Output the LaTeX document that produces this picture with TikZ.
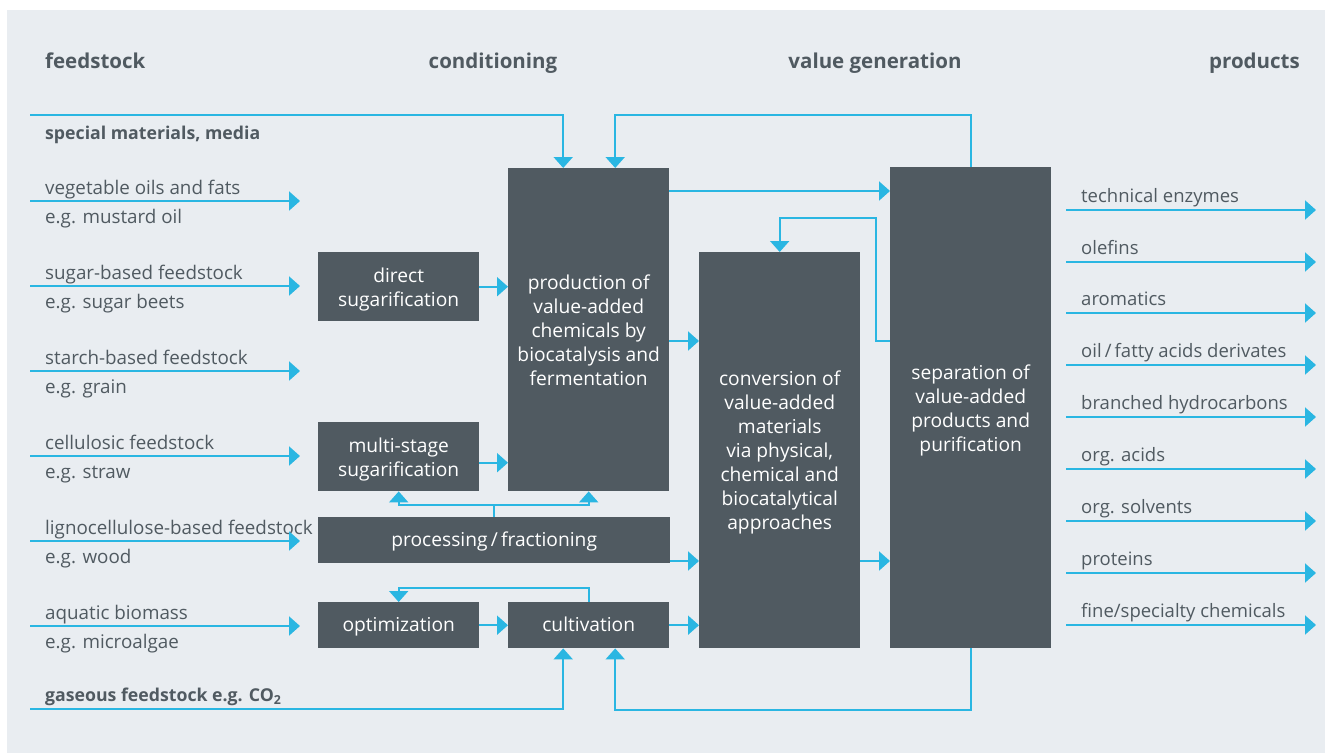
\documentclass[tikz,border=0pt]{standalone}
\usepackage{fontspec}
\setmainfont{Open Sans}
\usetikzlibrary{arrows.meta,calc}
\definecolor{bg}{HTML}{E9EDF1}
\definecolor{boxc}{HTML}{505A61}
\definecolor{ln}{HTML}{2AB6E2}
\definecolor{txt}{HTML}{505A61}
\begin{document}
\begin{tikzpicture}[x=1pt,y=-1pt,
  box/.style={fill=boxc, text=white, inner sep=0pt, align=center, anchor=north west,
    text depth=0pt, font=\fontsize{19.2}{24}\selectfont},
  onebox/.style={box, text height=15.5pt, text depth=2.5pt},
  lbl/.style={text=txt, anchor=base west, inner sep=0pt, font=\fontsize{18.8}{22}\selectfont},
  plbl/.style={lbl, font=\fontsize{18.5}{22}\selectfont},
  blbl/.style={lbl, font=\bfseries\fontsize{17.7}{22}\selectfont},
  hdr/.style={text=txt, inner sep=0pt, font=\bfseries\fontsize{20.5}{24}\selectfont},
  conn/.style={draw=ln, line width=2pt},
  arr/.style={conn, -{Triangle[length=11pt,width=19pt]}},
]
\useasboundingbox (0,0) rectangle (1325,753);
\fill[bg] (7,10) rectangle (1325,753);

% headers
\node[hdr, anchor=base west] (h1) at (45,68.5) {feedstock};
\node[hdr, anchor=base] (h2) at (493,68.5) {conditioning};
\node[hdr, anchor=base] (h3) at (875,68.5) {value generation};
\node[hdr, anchor=base east] (h4) at (1300,68.5) {products};

% boxes
\node[box, minimum width=161pt, minimum height=69pt] (direct) at (318,252) {direct\\sugarification};
\node[box, minimum width=161pt, minimum height=323pt] (prod) at (508,168) {production of\\value-added\\chemicals by\\biocatalysis and\\fermentation};
\node[box, minimum width=161pt, minimum height=69pt] (ms) at (318,422) {multi-stage\\sugarification};
\node[onebox, minimum width=352pt, minimum height=46pt] (proc) at (318,517) {processing\,/\,fractioning};
\node[onebox, minimum width=161pt, minimum height=46pt] (opt) at (318,602) {optimization};
\node[onebox, minimum width=161pt, minimum height=46pt] (cult) at (508,602) {cultivation};
\node[box, minimum width=161pt, minimum height=396pt] (conv) at (699,252) {conversion of\\value-added\\materials\\via physical,\\chemical and\\biocatalytical\\approaches};
\node[box, minimum width=161pt, minimum height=481pt] (sep) at (890,167) {separation of\\value-added\\products and\\purification};

% feedstock inputs
\coordinate (spS) at (30,115);
\node[blbl] (spL) at (45,139.3) {special materials, media};
\draw[arr] (spS) -| ($(prod.north)+(-25.5,0)$);

\foreach \i/\y/\a/\b in {1/201/{vegetable oils and fats}/{e.g. mustard oil},
  2/286/{sugar-based feedstock}/{e.g. sugar beets},
  3/371/{starch-based feedstock}/{e.g. grain},
  4/456/{cellulosic feedstock}/{e.g. straw},
  5/541/{lignocellulose-based feedstock}/{e.g. wood},
  6/626/{aquatic biomass}/{e.g. microalgae}}{
  \coordinate (fs\i) at (30,\y);
  \coordinate (fe\i) at (300,\y);
  \node[lbl] (fa\i) at (45,\y-7) {\a};
  \node[lbl] (fb\i) at (45,\y+22) {\b};
  \draw[arr] (fs\i) -- (fe\i);
}

\coordinate (gS) at (30,709);
\node[blbl] (gL) at (45,701.7) {gaseous feedstock e.g. CO\textsubscript{2}};
\draw[arr] (gS) -| ($(cult.south)+(-25.5,0)$);

% helper coordinates on box edges
\path ($(ms.east)+(0,6)$) coordinate (msA);
\path ($(prod.north east)+(0,23)$) coordinate (prA);
\path ($(prod.north east)+(0,173)$) coordinate (prB);
\path ($(proc.north east)+(0,44)$) coordinate (pcA);
\path ($(conv.north east)+(0,309)$) coordinate (cvA);
\path ($(sep.north west)+(0,174)$) coordinate (spA);
\path ($(conv.north)+(0,-34)$) coordinate (cvT);
\path ($(prod.north)+(26.5,0)$) coordinate (prT);
\path ($(cult.south)+(26.5,0)$) coordinate (cuB);

% internal connectors
\draw[arr] (direct.east) -- (direct.east -| prod.west);
\draw[arr] (msA) -- (msA -| prod.west);
\draw[conn] (proc.north) -- ++(0,-12) coordinate (pj);
\draw[arr] (pj) -| (ms.south);
\draw[arr] (pj) -| (prod.south);
\draw[arr] (opt.east) -- (cult.west);
\draw[arr] (cult.north) -- ++(0,-14) -| (opt.north);
\draw[arr] (prA) -- (prA -| sep.west);
\draw[arr] (prB) -- (prB -| conv.west);
\draw[arr] (pcA) -- (pcA -| conv.west);
\draw[arr] (cult.east) -- (cult.east -| conv.west);
\draw[arr] (cvA) -- (cvA -| sep.west);
\draw[arr] (spA) -- ++(-14,0) |- (cvT) -- (conv.north);
\draw[arr] (sep.north) -- ++(0,-52) -| (prT);
\draw[arr] (sep.south) -- ++(0,62) -| (cuB);

% products
\foreach \i/\y/\t in {1/210/{technical enzymes}, 2/262/{olefins}, 3/313/{aromatics},
  4/365/{oil\,/\,fatty acids derivates}, 5/417/{branched hydrocarbons}, 6/469/{org. acids},
  7/521/{org. solvents}, 8/573/{proteins}, 9/625/{fine/specialty chemicals}}{
  \coordinate (ps\i) at (1066,\y);
  \coordinate (pe\i) at (1316,\y);
  \node[plbl] (pl\i) at (1081,\y-8) {\t};
  \draw[arr] (ps\i) -- (pe\i);
}
\end{tikzpicture}
\end{document}
